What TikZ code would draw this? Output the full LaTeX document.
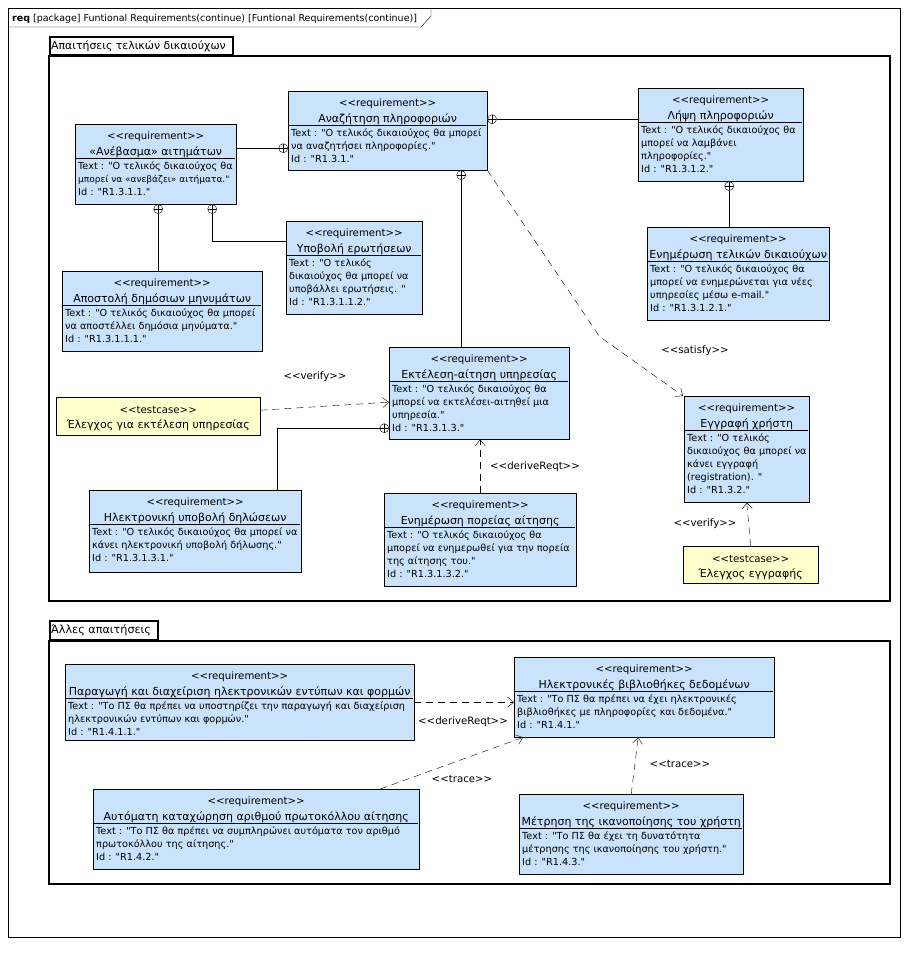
\documentclass[tikz,border=0pt]{standalone}
\usepackage{fontspec}
\setmainfont{DejaVu Sans}[Ligatures=TeXOff]
\usepackage{xcolor}
\usepackage{tikz}
\usetikzlibrary{positioning,calc,arrows.meta}

\definecolor{reqblue}{RGB}{201,227,252}
\definecolor{tcyellow}{RGB}{255,255,204}

\begin{document}
\begin{tikzpicture}[x=1pt,y=-1pt,
		reqbox/.style={draw,fill=reqblue,inner sep=0,anchor=north west},
		tcbox/.style={draw,fill=tcyellow,inner sep=0,anchor=north west},
		stereo/.style={font=\fontsize{10.2}{12}\selectfont,inner sep=0,anchor=base},
		rname/.style={font=\fontsize{11}{13}\selectfont,inner sep=0,anchor=base},
		rtext/.style={font=\fontsize{9.7}{13}\selectfont,inner sep=0,align=left,anchor=north west},
		lbl/.style={font=\fontsize{10.2}{12}\selectfont,inner sep=0},
		pkgtab/.style={draw,line width=2pt,inner sep=0,anchor=south west},
		cplus/.style={circle,draw,fill=white,minimum size=9pt,inner sep=0,
			path picture={\draw (path picture bounding box.north) -- (path picture bounding box.south)
				(path picture bounding box.west) -- (path picture bounding box.east);}},
		dep/.style={dash pattern=on 7pt off 5pt,-{Straight Barb[length=6pt,width=10pt]}}]
	\useasboundingbox (0,0) rectangle (909,962);
	\def\reqbox#1#2#3#4#5#6#7{%
		\node[reqbox,minimum width=#4,minimum height=#5] (#1) at (#2,#3) {};
		\node[stereo] (#1-st) at ([yshift=-15]#1.north) {<<requirement>>};
		\node[rname] (#1-nm) at ([yshift=-31]#1.north) {#6};
		\draw ([xshift=1,yshift=-34]#1.north west) -- ([xshift=-1,yshift=-34]#1.north east);
		\node[rtext] (#1-tx) at ([xshift=3,yshift=-38]#1.north west) {#7};}
	\def\tcbox#1#2#3#4#5#6{%
		\node[tcbox,minimum width=#4,minimum height=#5] (#1) at (#2,#3) {};
		\node[stereo] (#1-st) at ([yshift=-16]#1.north) {<<testcase>>};
		\node[rname] (#1-nm) at ([yshift=-31]#1.north) {#6};}
	
	% frame
	\draw (8,8) rectangle (900,937);
	\draw (8,27) -- (421,27) -- (431,16) -- (431,8);
	\node[anchor=base west,font=\fontsize{9.5}{12}\selectfont,inner sep=0] (hdr) at (12,21)
		{\textbf{req} [package] Funtional Requirements(continue) [Funtional Requirements(continue)]};
	
	% package: end users
	\draw[line width=2pt] (49,56) rectangle (890,601);
	\node[pkgtab,minimum width=183,minimum height=18] (p1) at (49,56) {};
	\node[anchor=west,font=\fontsize{10.9}{13}\selectfont,inner sep=0] (p1-nm) at ([xshift=2]p1.west) {Απαιτήσεις τελικών δικαιούχων};
	
	% package: other
	\draw[line width=2pt] (49,641) rectangle (890,884);
	\node[pkgtab,minimum width=108,minimum height=19] (p2) at (49,641) {};
	\node[anchor=west,font=\fontsize{11.2}{13}\selectfont,inner sep=0] (p2-nm) at ([xshift=2]p2.west) {Άλλες απαιτήσεις};
	
	% requirements
	\reqbox{anaz}{288}{91}{199}{79}{Αναζήτηση πληροφοριών}
		{Text : "Ο τελικός δικαιούχος θα μπορεί\\να αναζητήσει πληροφορίες."\\Id : "R1.3.1."}
	\reqbox{anev}{75}{124}{161}{80}{«Ανέβασμα» αιτημάτων}
		{Text : "Ο τελικός δικαιούχος θα\\{\fontsize{9}{13}\selectfont μπορεί να «ανεβάζει» αιτήματα."}\\Id : "R1.3.1.1."}
	\reqbox{lipsi}{638}{88}{165}{93}{Λήψη πληροφοριών}
		{Text : "Ο τελικός δικαιούχος θα\\μπορεί να λαμβάνει\\πληροφορίες."\\Id : "R1.3.1.2."}
	\reqbox{enimtel}{647}{227}{182}{93}{Ενημέρωση τελικών δικαιούχων}
		{Text : "Ο τελικός δικαιούχος θα\\μπορεί να ενημερώνεται για νέες\\υπηρεσίες μέσω e-mail."\\Id : "R1.3.1.2.1."}
	\reqbox{ypov}{286}{221}{136}{93}{Υποβολή ερωτήσεων}
		{Text : "Ο τελικός\\δικαιούχος θα μπορεί να\\υποβάλλει ερωτήσεις. "\\Id : "R1.3.1.1.2."}
	\reqbox{apost}{62}{271}{200}{80}{Αποστολή δημόσιων μηνυμάτων}
		{Text : "Ο τελικός δικαιούχος θα μπορεί\\να αποστέλλει δημόσια μηνύματα."\\Id : "R1.3.1.1.1."}
	\reqbox{ektel}{389}{347}{180}{92}{Εκτέλεση-αίτηση υπηρεσίας}
		{Text : "Ο τελικός δικαιούχος θα\\μπορεί να εκτελέσει-αιτηθεί μια\\υπηρεσία."\\Id : "R1.3.1.3."}
	\reqbox{ilekt}{89}{490}{212}{82}{Ηλεκτρονική υποβολή δηλώσεων}
		{Text : "Ο τελικός δικαιούχος θα μπορεί να\\κάνει ηλεκτρονική υποβολή δήλωσης."\\Id : "R1.3.1.3.1."}
	\reqbox{poreia}{384}{493}{192}{93}{Ενημέρωση πορείας αίτησης}
		{Text : "Ο τελικός δικαιούχος θα\\μπορεί να ενημερωθεί για την πορεία\\της αίτησης του."\\Id : "R1.3.1.3.2."}
	\reqbox{eggr}{684}{396}{125}{106}{Εγγραφή χρήστη}
		{Text : "Ο τελικός\\δικαιούχος θα μπορεί να\\κάνει εγγραφή\\(registration). "\\Id : "R1.3.2."}
	\tcbox{tc1}{56}{397}{204}{38}{Έλεγχος για εκτέλεση υπηρεσίας}
	\tcbox{tc2}{683}{546}{135}{37}{Έλεγχος εγγραφής}
	
	\reqbox{parag}{65}{664}{349}{76}{Παραγωγή και διαχείριση ηλεκτρονικών εντύπων και φορμών}
		{Text : "Το ΠΣ θα πρέπει να υποστηρίζει την παραγωγή και διαχείριση\\ηλεκτρονικών εντύπων και φορμών."\\Id : "R1.4.1.1."}
	\reqbox{vivl}{514}{657}{260}{80}{Ηλεκτρονικές βιβλιοθήκες δεδομένων}
		{Text : "Το ΠΣ θα πρέπει να έχει ηλεκτρονικές\\βιβλιοθήκες με πληροφορίες και δεδομένα."\\Id : "R1.4.1."}
	\reqbox{autom}{93}{789}{326}{80}{Αυτόματη καταχώρηση αριθμού πρωτοκόλλου αίτησης}
		{Text : "Το ΠΣ θα πρέπει να συμπληρώνει αυτόματα τον αριθμό\\πρωτοκόλλου της αίτησης."\\Id : "R1.4.2."}
	\reqbox{metr}{519}{794}{224}{80}{Μέτρηση της ικανοποίησης του χρήστη}
		{Text : "Το ΠΣ θα έχει τη δυνατότητα\\μέτρησης της ικανοποίησης του χρήστη."\\Id : "R1.4.3."}
	
	% containment
	\node[cplus,anchor=east] (c1) at ([yshift=-17.5]anaz.west) {};
	\draw (anev.east |- c1) -- (c1);
	\node[cplus,anchor=west] (c2) at ([yshift=11.5]anaz.east) {};
	\draw (c2) -- (lipsi.west |- c2);
	\node[cplus,anchor=north] (c3) at ([xshift=8.5]lipsi.south) {};
	\draw (c3) -- (c3 |- enimtel.north);
	\node[cplus,anchor=north] (c4) at ([xshift=73.5]anaz.south) {};
	\draw (c4) -- (c4 |- ektel.north);
	\node[cplus,anchor=north] (c5) at ([xshift=2.5]anev.south) {};
	\draw (c5) -- (c5 |- apost.north);
	\node[cplus,anchor=north] (c6) at ([xshift=56.5]anev.south) {};
	\draw (c6) |- ([yshift=26.5]ypov.west);
	\node[cplus,anchor=east] (c7) at ([yshift=-35]ektel.west) {};
	\draw (c7) -| ([xshift=82]ilekt.north);
	
	% dependencies
	\draw[dep] ([yshift=6]tc1.east) -- ([yshift=-9]ektel.west);
	\node[lbl] (l1) at (315,377) {<<verify>>};
	\draw[dep] (poreia.north) -- (poreia.north |- ektel.south);
	\node[lbl] (l2) at (535,467) {<<deriveReqt>>};
	\draw[dep] (anaz.south east) -- ++(112,166) -- ([xshift=-1]eggr.north west);
	\node[lbl] (l3) at (695,351) {<<satisfy>>};
	\draw[dep] (tc2.north) -- (eggr.south);
	\node[lbl] (l4) at (705,524) {<<verify>>};
	\draw[dep] (parag.east) -- (parag.east -| vivl.west);
	\node[lbl] (l5) at (463,722) {<<deriveReqt>>};
	\draw[dep] ([xshift=124]autom.north) -- ([xshift=9]vivl.south west);
	\node[lbl] (l6) at (462,779) {<<trace>>};
	\draw[dep] (metr.north) -- ([xshift=-6]vivl.south);
	\node[lbl] (l7) at (680,764) {<<trace>>};
\end{tikzpicture}
\end{document}
